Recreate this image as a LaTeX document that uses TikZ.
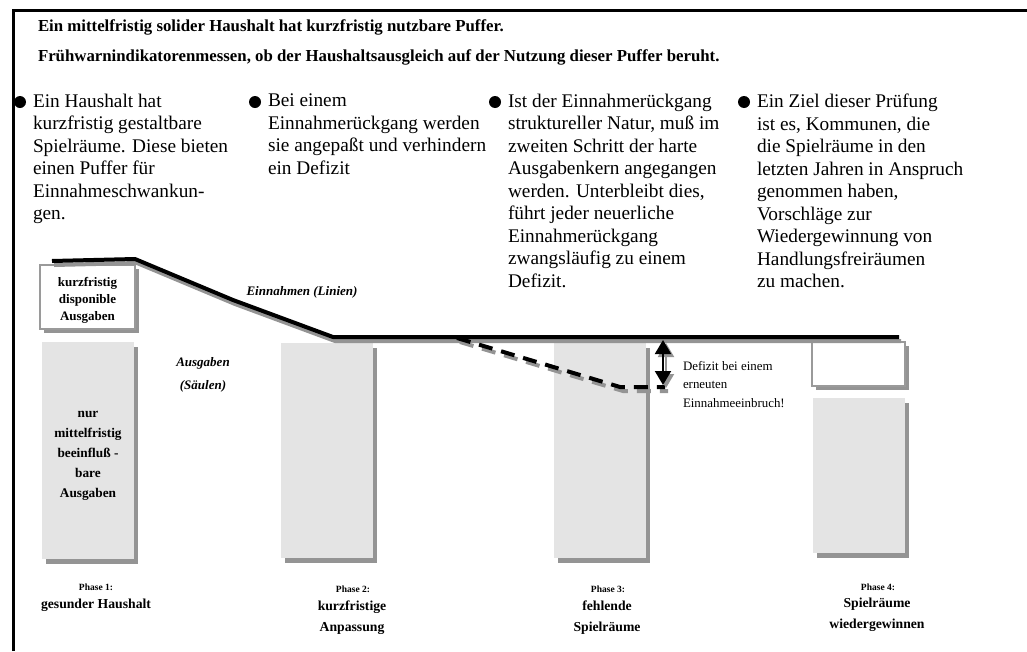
\documentclass[tikz,border=0pt]{standalone}
\usepackage{fontspec}
\setmainfont{Liberation Serif}
\usetikzlibrary{arrows.meta,shadows}
\definecolor{colfill}{HTML}{E4E4E4}
\definecolor{shade}{HTML}{949494}
\definecolor{boxline}{HTML}{9A9A9A}
\begin{document}
\begin{tikzpicture}[x=1pt,y=-1pt,
  every node/.style={inner sep=0pt, outer sep=0pt},
  titletext/.style={font=\fontsize{16.8}{20}\selectfont\bfseries, anchor=base west},
  bullettext/.style={font=\fontsize{19.3}{22.5}\selectfont, align=left, anchor=north west},
  bulletdot/.style={circle, fill=black, minimum size=12pt},
  column/.style={fill=colfill, anchor=north west, minimum width=92pt,
    drop shadow={shadow xshift=4pt, shadow yshift=-5pt, fill=shade, opacity=1}},
  whitebox/.style={fill=white, draw=boxline, line width=2pt, anchor=north west,
    drop shadow={shadow xshift=4pt, shadow yshift=-4pt, fill=shade, opacity=1}},
  boldlabel/.style={font=\fontsize{13}{17}\selectfont\bfseries, align=center},
  collabel/.style={font=\fontsize{13.3}{20}\selectfont\bfseries, align=center},
  italiclabel/.style={font=\fontsize{13}{23}\selectfont\bfseries\itshape, align=center},
  phasesmall/.style={font=\fontsize{9.5}{11}\selectfont\bfseries},
  phasename/.style={font=\fontsize{13.7}{21}\selectfont\bfseries, align=center},
  smalltext/.style={font=\fontsize{12.9}{18.5}\selectfont, align=left, anchor=north west},
  income/.style={line width=4pt, line join=round},
  incomeshadow/.style={line width=4pt, draw=shade, line join=round, transform canvas={shift={(2,4)}}},
  dashedline/.style={line width=4pt, dash pattern=on 14pt off 9pt},
  dashedshadow/.style={line width=4pt, draw=shade, dash pattern=on 14pt off 9pt, transform canvas={shift={(3,4)}}},
  gaparrow/.style={line width=2pt, {Triangle[length=14pt,width=16pt]}-{Triangle[length=14pt,width=16pt]}},
  gaparrowshadow/.style={gaparrow, draw=shade, fill=shade, transform canvas={shift={(3,3)}}}
]
\useasboundingbox (0,0) rectangle (1027,651);
% frame
\coordinate (fb) at (13.5,651);
\coordinate (fc) at (13.5,10.5);
\coordinate (fr) at (1027,10.5);
\draw[line width=3pt] (fb) -- (fc) -- (fr);

% titles
\node[titletext] (title1) at (38,31) {Ein mittelfristig solider Haushalt hat kurzfristig nutzbare Puffer.};
\node[titletext] (title2) at (38,61) {Frühwarnindikatorenmessen, ob der Haushaltsausgleich auf der Nutzung dieser Puffer beruht.};

% bullets
\node[bulletdot] (dot1) at (20,102) {};
\node[bullettext] (txt1) at (33,94) {Ein Haushalt hat\\kurzfristig gestaltbare\\Spielräume. Diese bieten\\einen Puffer für\\Einnahmeschwankun-\\gen.};
\node[bulletdot] (dot2) at (255,102) {};
\node[bullettext] (txt2) at (268,94) {Bei einem\\Einnahmerückgang werden\\sie angepaßt und verhindern\\ein Defizit};
\node[bulletdot] (dot3) at (495,102) {};
\node[bullettext] (txt3) at (508,94) {Ist der Einnahmerückgang\\struktureller Natur, muß im\\zweiten Schritt der harte\\Ausgabenkern angegangen\\werden. Unterbleibt dies,\\führt jeder neuerliche\\Einnahmerückgang\\zwangsläufig zu einem\\Defizit.};
\node[bulletdot] (dot4) at (744,102) {};
\node[bullettext] (txt4) at (757,94) {Ein Ziel dieser Prüfung\\ist es, Kommunen, die\\die Spielräume in den\\letzten Jahren in Anspruch\\genommen haben,\\Vorschläge zur\\Wiedergewinnung von\\Handlungsfreiräumen\\zu machen.};

% columns
\node[column, minimum height=217pt] (col1) at (42,342) {};
\node[column, minimum height=215pt] (col2) at (281,343) {};
\node[column, minimum height=215pt] (col3) at (554,343) {};
\node[column, minimum height=155pt] (col4) at (813,398) {};

% boxes
\node[whitebox, minimum width=95pt, minimum height=64pt] (box1) at (40,265) {};
\node[boldlabel] (box1text) at (87.5,300) {kurzfristig\\disponible\\Ausgaben};
\node[whitebox, minimum width=93pt, minimum height=44pt] (box4) at (812,342) {};
\node[collabel] (col1text) at (88,456) {nur\\mittelfristig\\beeinfluß -\\bare\\Ausgaben};

% income line
\coordinate (e0) at (52,261);
\coordinate (e1) at (135,259);
\coordinate (e2) at (233,300);
\coordinate (e3) at (333,337);
\coordinate (e4) at (899,337);
\draw[incomeshadow] (e0) -- (e1) -- (e2) -- (e3) -- (e4);
\draw[income] (e0) -- (e1) -- (e2) -- (e3) -- (e4);

% dashed line
\coordinate (d0) at (457,338);
\coordinate (d1) at (620,387);
\coordinate (d2) at (665,387);
\draw[dashedshadow] (d0) -- (d1) -- (d2);
\draw[dashedline] (d0) -- (d1) -- (d2);

% deficit arrow
\coordinate (a0) at (663,340);
\coordinate (a1) at (663,385);
\draw[gaparrowshadow] (a0) -- (a1);
\draw[gaparrow] (a0) -- (a1);
\node[smalltext] (deftext) at (683,361) {Defizit bei einem\\erneuten\\Einnahmeeinbruch!};

% labels
\node[italiclabel] (inclabel) at (302,292) {Einnahmen (Linien)};
\node[italiclabel] (explabel) at (203,375) {Ausgaben\\(Säulen)};

% phases
\node[phasesmall] (ph1) at (96,587) {Phase 1:};
\node[phasename] (ph1n) at (96,605) {gesunder Haushalt};
\node[phasesmall] (ph2) at (353,589) {Phase 2:};
\node[phasename] (ph2n) at (352,618) {kurzfristige\\Anpassung};
\node[phasesmall] (ph3) at (608,589) {Phase 3:};
\node[phasename] (ph3n) at (607,618) {fehlende\\Spielräume};
\node[phasesmall] (ph4) at (878,587) {Phase 4:};
\node[phasename] (ph4n) at (877,615) {Spielräume\\wiedergewinnen};
\end{tikzpicture}
\end{document}
